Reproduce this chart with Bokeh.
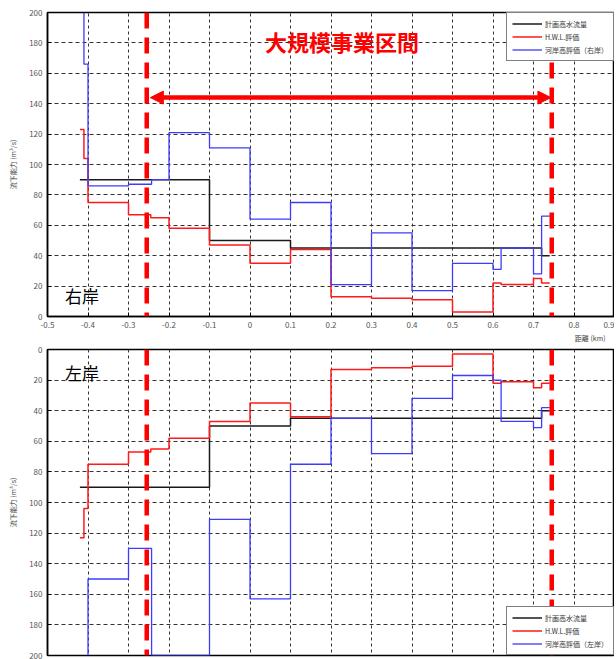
from bokeh.plotting import figure
from bokeh.models import (Range1d, FixedTicker, Span, Arrow, NormalHead, Label,
                          Legend, LegendItem, Title)
from bokeh.layouts import column
from bokeh.embed import file_html
from bokeh.resources import INLINE

# ---------------- data ----------------
x_ticks = [-0.5, -0.4, -0.3, -0.2, -0.1, 0.0, 0.1, 0.2, 0.3, 0.4, 0.5, 0.6, 0.7, 0.8, 0.9]
x_tick_labels = ["-0.5", "-0.4", "-0.3", "-0.2", "-0.1", "0", "0.1", "0.2", "0.3",
                 "0.4", "0.5", "0.6", "0.7", "0.8", "0.9"]
y_ticks = [0, 20, 40, 60, 80, 100, 120, 140, 160, 180, 200]

# 計画高水流量 (both banks)
plan_x = [-0.42, -0.10, 0.10, 0.72, 0.74]
plan_y = [90, 50, 45, 40, 40]

# H.W.L.評価 (both banks)
hwl_x = [-0.42, -0.41, -0.40, -0.30, -0.245, -0.20, -0.10, 0.0, 0.1, 0.2, 0.3, 0.4,
         0.5, 0.6, 0.62, 0.70, 0.72, 0.74]
hwl_y = [123, 104, 75, 67, 65, 58, 47, 35, 44, 13, 12, 11, 3, 22, 21, 25, 22, 22]

# 河岸高評価（右岸）
right_x = [-0.41, -0.41, -0.40, -0.30, -0.243, -0.20, -0.10, 0.0, 0.1, 0.2, 0.3, 0.4,
           0.5, 0.6, 0.62, 0.70, 0.72, 0.74]
right_y = [200, 166, 86, 87, 90, 121, 111, 64, 75, 21, 55, 17, 35, 31, 45, 28, 66, 66]

# 河岸高評価（左岸）
left_x = [-0.40, -0.40, -0.30, -0.243, -0.10, 0.0, 0.1, 0.2, 0.3, 0.4, 0.5, 0.6,
          0.62, 0.70, 0.72, 0.74]
left_y = [200, 150, 130, 200, 111, 163, 75, 45, 68, 32, 17, 20, 47, 51, 38, 38]

# 大規模事業区間
section_start = -0.255
section_end = 0.745
arrow_start = -0.246
arrow_end = 0.743
arrow_level = 144

RED = "#ff1a1a"
BLUE = "#3c3cff"
BLACK = "#1a1a1a"
FONT = "Noto Sans CJK JP"


def base_figure(y_range, frame_height, min_border_top, min_border_bottom):
    p = figure(frame_width=567, frame_height=frame_height,
               x_range=Range1d(-0.5, 0.9), y_range=y_range,
               output_backend="svg", toolbar_location=None,
               min_border_left=47, min_border_right=0,
               min_border_top=min_border_top, min_border_bottom=min_border_bottom)
    p.xaxis.ticker = FixedTicker(ticks=x_ticks)
    p.xaxis.major_label_overrides = dict(zip(x_ticks, x_tick_labels))
    p.yaxis.ticker = FixedTicker(ticks=y_ticks)
    for ax in (p.xaxis, p.yaxis):
        ax.major_tick_in = 4
        ax.major_tick_out = 0
        ax.minor_tick_in = 0
        ax.minor_tick_out = 0
        ax.axis_line_color = "black"
        ax.axis_line_width = 1.5
        ax.major_tick_line_color = "black"
        ax.major_label_text_font = FONT
        ax.major_label_text_font_size = "8px"
        ax.major_label_text_color = "#555555"
        ax.major_label_standoff = 5
    p.yaxis.axis_label = "流下能力 (m³/s)"
    p.yaxis.axis_label_text_font = FONT
    p.yaxis.axis_label_text_font_size = "7px"
    p.yaxis.axis_label_text_font_style = "normal"
    p.yaxis.axis_label_text_color = "#444444"
    p.yaxis.axis_label_standoff = 8
    p.xgrid.ticker = FixedTicker(ticks=x_ticks)
    p.ygrid.ticker = FixedTicker(ticks=y_ticks)
    p.xgrid.grid_line_color = "#333333"
    p.xgrid.grid_line_dash = "3 3"
    p.ygrid.grid_line_color = "#333333"
    p.ygrid.grid_line_dash = "4 3"
    p.outline_line_color = "black"
    p.outline_line_width = 1.5
    p.outline_line_alpha = 1
    p.background_fill_color = "white"
    return p


def add_series(p, bank_x, bank_y, bank_label, loc):
    r1 = p.step(plan_x, plan_y, mode="after", line_color=BLACK, line_width=1.5)
    r2 = p.step(hwl_x, hwl_y, mode="after", line_color=RED, line_width=1.5)
    r3 = p.step(bank_x, bank_y, mode="after", line_color=BLUE, line_width=1.3)
    legend = Legend(items=[LegendItem(label="計画高水流量", renderers=[r1]),
                           LegendItem(label="H.W.L.評価", renderers=[r2]),
                           LegendItem(label=bank_label, renderers=[r3])],
                    location=loc)
    legend.margin = 0
    legend.padding = 5
    legend.spacing = 2
    legend.border_line_color = "black"
    legend.border_line_width = 1.5
    legend.label_text_font = FONT
    legend.label_text_font_size = "7px"
    legend.label_text_color = "#333333"
    legend.glyph_width = 30
    legend.glyph_height = 11
    legend.label_height = 11
    legend.label_standoff = 3
    legend.background_fill_alpha = 1
    p.add_layout(legend)
    for xv in (section_start, section_end):
        p.add_layout(Span(location=xv, dimension="height", line_color="#ff0000",
                          line_width=4.5, line_dash="16 9"))


# ---------------- top: 右岸 ----------------
p1 = base_figure(Range1d(0, 200), 304, 12, 0)
add_series(p1, right_x, right_y, "河岸高評価（右岸）", "top_right")
p1.add_layout(Arrow(start=NormalHead(size=13, fill_color="#ff0000", line_color="#ff0000"),
                    end=NormalHead(size=13, fill_color="#ff0000", line_color="#ff0000"),
                    x_start=arrow_start, x_end=arrow_end, y_start=arrow_level, y_end=arrow_level,
                    line_color="#ff0000", line_width=4.5))
p1.add_layout(Label(x=0.227, y=181, text="大規模事業区間", text_align="center",
                    text_baseline="middle", text_color="#ff0000", text_font=FONT,
                    text_font_style="bold", text_font_size="22px"))
p1.add_layout(Label(x=-0.457, y=14, text="右岸", text_baseline="middle",
                    text_color="black", text_font=FONT, text_font_size="17px"))
p1.add_layout(Title(text="距離 (km)", align="right", text_font=FONT,
                    text_font_size="7px", text_font_style="normal",
                    text_color="#444444", offset=9, standoff=0), "below")
# dashed section markers continuing through the gap between the panels
for xv in (section_start, section_end):
    p1.add_layout(Label(x=xv, y=0, y_offset=-5, text="\u00a0", text_align="center",
                        text_baseline="top", text_font=FONT, text_font_size="17px",
                        background_fill_color="#ff0000", padding=0))

# ---------------- bottom: 左岸 ----------------
p2 = base_figure(Range1d(200, 0), 306, 7, 4)
add_series(p2, left_x, left_y, "河岸高評価（左岸）", "bottom_right")
p2.xaxis.visible = False
p2.add_layout(Label(x=-0.457, y=15, text="左岸", text_baseline="middle",
                    text_color="black", text_font=FONT, text_font_size="17px"))

layout = column(p1, p2, spacing=0)
open("out.html", "w").write(file_html(layout, INLINE))
